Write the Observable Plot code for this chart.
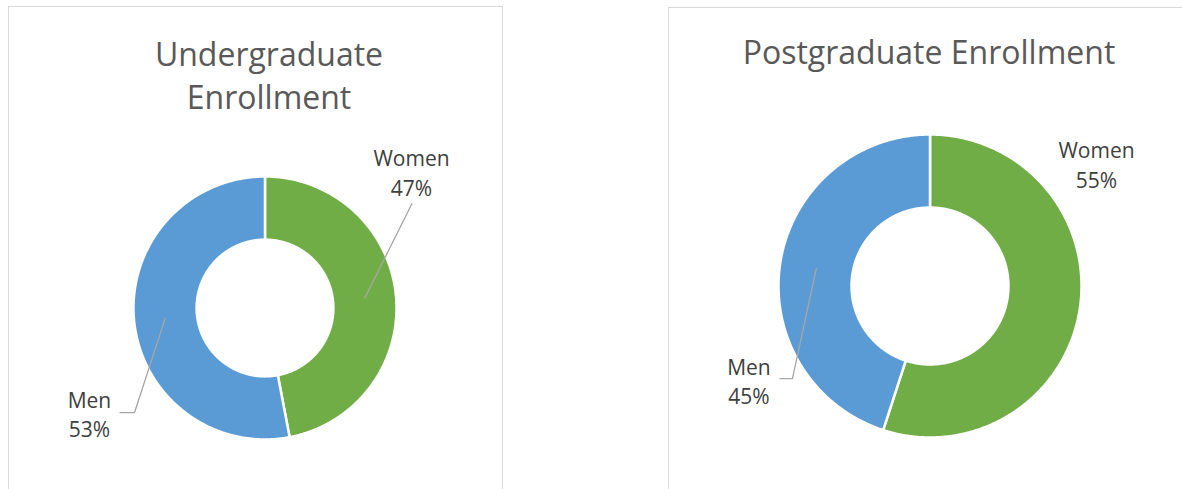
<!DOCTYPE html>
<html><head><meta charset="utf-8">
<script src="https://cdn.jsdelivr.net/npm/d3@7"></script>
<script src="https://cdn.jsdelivr.net/npm/@observablehq/plot@0.6"></script>
<style>
html,body{margin:0;padding:0;background:#fff;}
body{width:1182px;height:489px;overflow:hidden;position:relative;font-family:"Open Sans",sans-serif;}
.panel{position:absolute;box-sizing:border-box;border:1px solid #d9d9d9;background:#fff;}
.title{position:absolute;color:#595959;font-size:32px;line-height:43px;text-align:center;white-space:normal;}
.plot{position:absolute;left:0;top:0;}
.plot svg{display:block;}
</style></head><body>
<script>
// ---- data ----
const categories = ["Women", "Men"];
const undergradValues = [47, 53];
const postgradValues = [55, 45];
const chartTitles = ["Undergraduate Enrollment", "Postgraduate Enrollment"];
const sliceColors = ["#70AD47", "#5B9BD5"];

// ---- layout (page pixels / unit-circle label anchors) ----
const layouts = [
  {values: undergradValues, title: chartTitles[0],
   panel: {left: 8, top: 6, width: 495, height: 600},
   titleBox: {cx: 269, top: 32, width: 320},
   cx: 264.5, cy: 307.5, R: 131.5, inner: 0.52,
   labels: {
     Women: {at: [1.114, 1.038], leader: [[1.118, 0.795]]},
     Men: {at: [-1.335, -0.798], leader: [[-0.992, -0.795], [-1.106, -0.795]]}
   }},
  {values: postgradValues, title: chartTitles[1],
   panel: {left: 668, top: 7, width: 600, height: 600},
   titleBox: {cx: 929, top: 30, width: 500},
   cx: 929.5, cy: 285.5, R: 151.5, inner: 0.518,
   labels: {
     Women: {at: [1.099, 0.809], leader: null},
     Men: {at: [-1.195, -0.620], leader: [[-0.908, -0.611], [-0.993, -0.611]]}
   }}
];

function polar(angle, rho) { return [rho * Math.sin(angle), rho * Math.cos(angle)]; }

for (const L of layouts) {
  const p = document.createElement("div");
  p.className = "panel";
  Object.assign(p.style, {left: L.panel.left + "px", top: L.panel.top + "px", width: L.panel.width + "px", height: L.panel.height + "px"});
  document.body.appendChild(p);
}

for (const L of layouts) {
  const t = document.createElement("div");
  t.className = "title";
  t.textContent = L.title;
  Object.assign(t.style, {left: (L.titleBox.cx - L.titleBox.width / 2) + "px", top: L.titleBox.top + "px", width: L.titleBox.width + "px"});
  document.body.appendChild(t);

  const total = d3.sum(L.values);
  const slices = [];
  const leaders = [];
  const labels = [];
  let a0 = 0;
  L.values.forEach((v, i) => {
    const cat = categories[i];
    const a1 = a0 + v / total * 2 * Math.PI;
    const n = Math.max(2, Math.ceil((a1 - a0) / (Math.PI / 360)));
    const pts = [];
    for (let k = 0; k <= n; k++) pts.push(polar(a0 + (a1 - a0) * k / n, 1));
    for (let k = n; k >= 0; k--) pts.push(polar(a0 + (a1 - a0) * k / n, L.inner));
    pts.push(pts[0]);
    for (const [x, y] of pts) slices.push({category: cat, x, y});
    const mid = (a0 + a1) / 2;
    const lab = L.labels[cat];
    if (lab.leader) {
      const start = polar(mid, (1 + L.inner) / 2);
      const path = [start, ...lab.leader];
      for (const [x, y] of path) leaders.push({key: cat, x, y});
    }
    labels.push({category: cat, value: v, x: lab.at[0], y: lab.at[1]});
    a0 = a1;
  });

  const chart = Plot.plot({
    width: 1182,
    height: 489,
    x: {domain: [-1, 1], range: [L.cx - L.R, L.cx + L.R], axis: null},
    y: {domain: [-1, 1], range: [L.cy + L.R, L.cy - L.R], axis: null},
    color: {domain: categories, range: sliceColors},
    style: {background: "transparent", fontFamily: "Open Sans", overflow: "visible"},
    marks: [
      Plot.line(slices, {x: "x", y: "y", z: "category", fill: "category", stroke: "white", strokeWidth: 2.5, curve: "linear"}),
      Plot.line(leaders, {x: "x", y: "y", z: "key", stroke: "#A6A6A6", strokeWidth: 1.3, strokeLinecap: "butt", strokeLinejoin: "miter"}),
      Plot.text(labels, {x: "x", y: "y", text: d => `${d.category}\n${d.value}%`, fontSize: 21, lineHeight: 1.4, fill: "#404040"})
    ]
  });
  const wrap = document.createElement("div");
  wrap.className = "plot";
  wrap.appendChild(chart);
  document.body.appendChild(wrap);
}
</script>
</body></html>
